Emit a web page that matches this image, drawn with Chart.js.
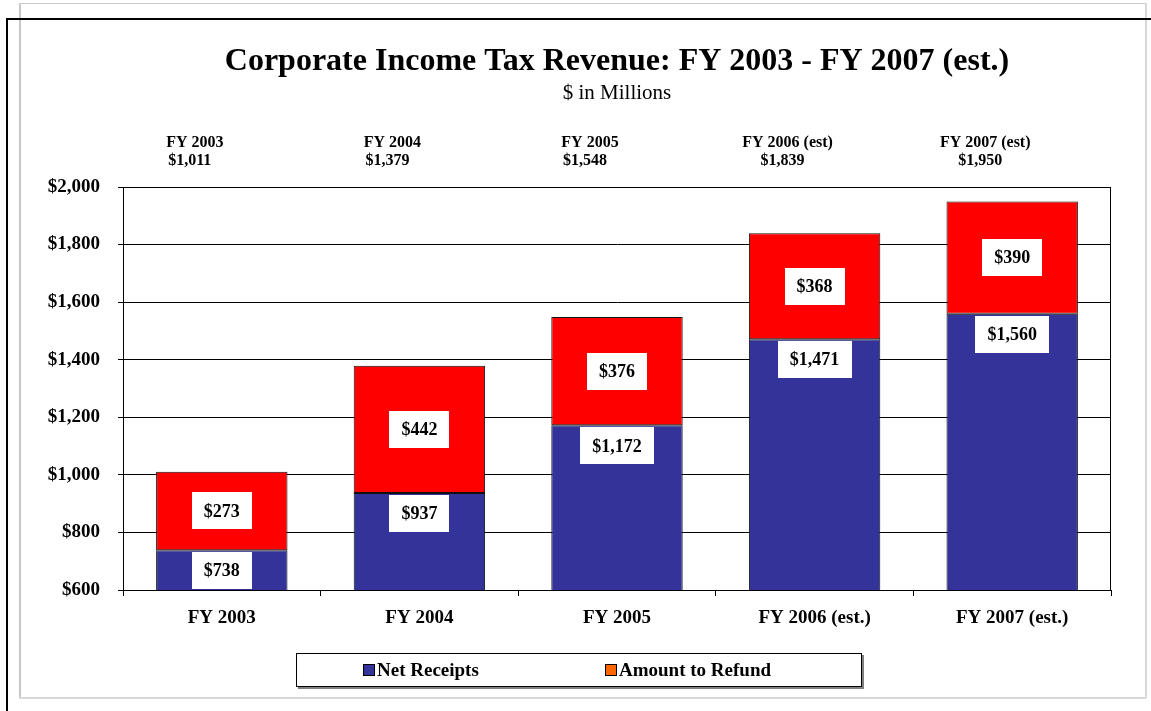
<!DOCTYPE html>
<html>
<head>
<meta charset="utf-8">
<script src="https://cdn.jsdelivr.net/npm/chart.js@4/dist/chart.umd.min.js"></script>
<style>
    html, body { margin: 0; padding: 0; background: #fff; }
    #wrap { position: relative; width: 1151px; height: 711px; overflow: hidden; }
    .line { position: absolute; }
    canvas { position: absolute; left: 0; top: 0; }
</style>
</head>
<body>
<div id="wrap">
    <!-- page frames around the chart -->
    <div class="line" style="left:19px;top:3px;width:1127px;height:1px;background:#c8c8c8"></div>
    <div class="line" style="left:19px;top:3px;width:2px;height:695px;background:#c8c8c8"></div>
    <div class="line" style="left:1145px;top:3px;width:2px;height:695px;background:#d8d8d8"></div>
    <div class="line" style="left:19px;top:697px;width:1127px;height:2px;background:#d8d8d8"></div>
    <div class="line" style="left:6px;top:18px;width:1145px;height:2px;background:#000"></div>
    <div class="line" style="left:6px;top:18px;width:2px;height:693px;background:#000"></div>
    <canvas id="chart" width="1151" height="711"></canvas>
</div>
<script>
const categories = ["FY 2003", "FY 2004", "FY 2005", "FY 2006 (est.)", "FY 2007 (est.)"];
const netReceipts = [738, 937, 1172, 1471, 1560];
const refunds = [273, 442, 376, 368, 390];

// year / total captions printed above the plot
const headerYears = ["FY 2003", "FY 2004", "FY 2005", "FY 2006 (est)", "FY 2007 (est)"];
const headerTotals = [1011, 1379, 1548, 1839, 1950];

const yMin = 600;
const yMax = 2000;
const yStep = 200;

const seriesNames = ["Net Receipts", "Amount to Refund"];
const barColors = ["#333399", "#ff0000"];
const legendColors = ["#333399", "#ff6600"];

const FONT = "'Liberation Serif', 'Times New Roman', serif";

function money(v) {
    return "$" + v.toLocaleString("en-US");
}

function labelBox(ctx, text, cx, top) {
    ctx.font = "bold 18px " + FONT;
    const w = ctx.measureText(text).width + 24;
    const h = 37;
    ctx.fillStyle = "#fff";
    ctx.fillRect(Math.round(cx - w / 2), Math.round(top), Math.round(w), h);
    ctx.fillStyle = "#000";
    ctx.textAlign = "center";
    ctx.textBaseline = "middle";
    ctx.fillText(text, cx, top + h / 2 + 1);
}

const extras = {
    id: "extras",
    afterDraw(chart) {
        const ctx = chart.ctx;
        const area = chart.chartArea;
        const xs = chart.scales.x;
        const mid = (area.left + area.right) / 2;

        ctx.save();

        // plot frame
        ctx.strokeStyle = "#000";
        ctx.lineWidth = 1;
        ctx.strokeRect(area.left + 0.5, area.top + 0.5, area.right - area.left - 1, area.bottom - area.top);

        // title and subtitle
        ctx.fillStyle = "#000";
        ctx.textAlign = "center";
        ctx.textBaseline = "middle";
        ctx.font = "bold 32px " + FONT;
        ctx.fillText("Corporate Income Tax Revenue: FY 2003 - FY 2007 (est.)", mid, 62);
        ctx.font = "21px " + FONT;
        ctx.fillText("$ in Millions", mid, 93);

        // captions above each bar
        ctx.font = "bold 16px " + FONT;
        headerYears.forEach((name, i) => {
            const cx = xs.getPixelForValue(i);
            ctx.fillText(name, cx - 27, 143);
            ctx.fillText(money(headerTotals[i]), cx - 32, 161);
        });

        // value labels: net receipts sit at the top of the blue segment,
        // refunds are centred in the red segment
        const netMeta = chart.getDatasetMeta(0);
        const refMeta = chart.getDatasetMeta(1);
        netMeta.data.forEach((bar, i) => {
            const top = Math.min(bar.y + 2, area.bottom - 37);
            labelBox(ctx, money(netReceipts[i]), bar.x, top);
        });
        refMeta.data.forEach((bar, i) => {
            const center = (bar.y + bar.base) / 2;
            labelBox(ctx, money(refunds[i]), bar.x, center - 18.5);
        });

        // legend box
        const lx = 296, ly = 653, lw = 566, lh = 34;
        ctx.fillStyle = "#808080";
        ctx.fillRect(lx + 2, ly + 2, lw, lh);
        ctx.fillStyle = "#fff";
        ctx.fillRect(lx, ly, lw, lh);
        ctx.strokeStyle = "#000";
        ctx.strokeRect(lx + 0.5, ly + 0.5, lw - 1, lh - 1);
        const itemX = [lx + 67, lx + 309];
        ctx.font = "bold 19px " + FONT;
        ctx.textAlign = "left";
        seriesNames.forEach((name, i) => {
            ctx.fillStyle = legendColors[i];
            ctx.fillRect(itemX[i], ly + 11, 11, 11);
            ctx.strokeStyle = "#000";
            ctx.strokeRect(itemX[i] + 0.5, ly + 11.5, 11, 11);
            ctx.fillStyle = "#000";
            ctx.fillText(name, itemX[i] + 14, ly + 18);
        });

        ctx.restore();
    }
};

new Chart(document.getElementById("chart"), {
    type: "bar",
    data: {
        labels: categories,
        datasets: [
            {
                label: seriesNames[0],
                data: netReceipts,
                backgroundColor: barColors[0],
                borderColor: "#111",
                borderWidth: 1,
                borderSkipped: false,
            },
            {
                label: seriesNames[1],
                data: refunds,
                backgroundColor: barColors[1],
                borderColor: "#111",
                borderWidth: 1,
                borderSkipped: false,
            },
        ],
    },
    options: {
        responsive: false,
        animation: false,
        events: [],
        layout: {
            padding: { top: 187, left: 0, right: 40, bottom: 61 },
        },
        datasets: {
            bar: {
                barPercentage: 0.665,
                categoryPercentage: 1,
            },
        },
        plugins: {
            legend: { display: false },
            tooltip: { enabled: false },
            title: { display: false },
        },
        scales: {
            x: {
                stacked: true,
                offset: true,
                grid: {
                    offset: true,
                    drawOnChartArea: false,
                    drawTicks: true,
                    tickLength: 6,
                    color: "#000",
                },
                border: { color: "#000" },
                ticks: {
                    color: "#000",
                    padding: 11,
                    maxRotation: 0,
                    font: { family: FONT, size: 19, weight: "bold" },
                },
                afterFit(scale) {
                    scale.height = 60;
                },
            },
            y: {
                stacked: true,
                min: yMin,
                max: yMax,
                grid: {
                    color: "#000",
                    tickLength: 5,
                },
                border: { color: "#000" },
                ticks: {
                    stepSize: yStep,
                    color: "#000",
                    padding: 18,
                    font: { family: FONT, size: 19, weight: "bold" },
                    // dollar amounts with thousands separators
                    callback: (value) => money(value),
                },
                afterFit(scale) {
                    scale.width = 123;
                },
            },
        },
    },
    plugins: [extras],
});
</script>
</body>
</html>
